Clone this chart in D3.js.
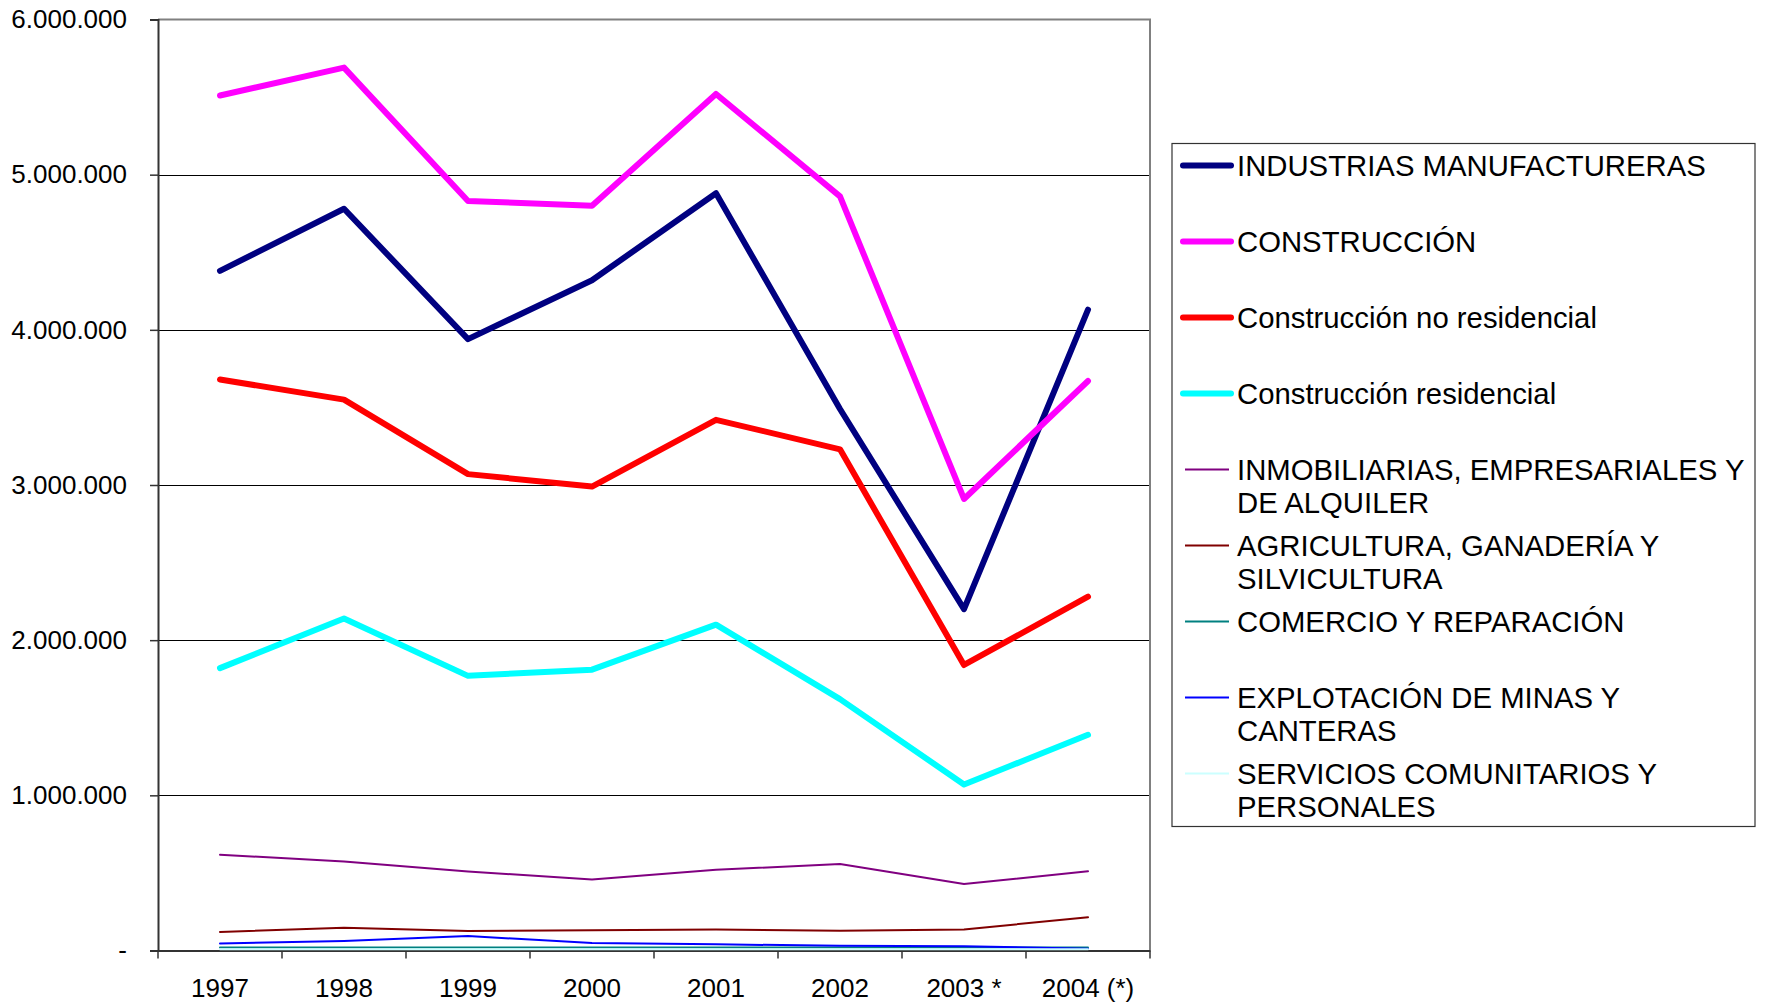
<!DOCTYPE html>
<html>
<head>
<meta charset="utf-8">
<script src="https://cdn.jsdelivr.net/npm/d3@7"></script>
<style>
  body { margin: 0; background: #fff; }
  svg { display: block; font-family: Arial, "Liberation Sans", sans-serif; }
</style>
</head>
<body>
<svg width="1765" height="1005"></svg>
<script>
// years on the x axis
const years = ["1997", "1998", "1999", "2000", "2001", "2002", "2003 *", "2004 (*)"]

const yTicks = [0, 1000000, 2000000, 3000000, 4000000, 5000000, 6000000]

// values
const industrias = [4380000, 4780000, 3940000, 4320000, 4880000, 3490000, 2200000, 4130000]
const construccion = [5510000, 5690000, 4830000, 4800000, 5520000, 4860000, 2910000, 3670000]
const noResidencial = [3680000, 3550000, 3070000, 2990000, 3420000, 3230000, 1840000, 2280000]
const residencial = [1820000, 2140000, 1770000, 1810000, 2100000, 1620000, 1070000, 1390000]
const inmobiliarias = [617000, 574000, 509000, 458000, 520000, 557000, 428000, 511000]
const agricultura = [120000, 146000, 125000, 130000, 135000, 128000, 135000, 215000]
const comercio = [20000, 20000, 20000, 20000, 20000, 20000, 20000, 20000]
const explotacion = [45000, 62000, 93000, 49000, 40000, 30000, 28000, 12000]
const servicios = [8000, 8000, 8000, 8000, 8000, 8000, 8000, 8000]

const series = [
  { name: ["INDUSTRIAS MANUFACTURERAS"], values: industrias, color: "#000080", width: 6 },
  { name: ["CONSTRUCCIÓN"], values: construccion, color: "#FF00FF", width: 6 },
  { name: ["Construcción no residencial"], values: noResidencial, color: "#FF0000", width: 6 },
  { name: ["Construcción residencial"], values: residencial, color: "#00FFFF", width: 6 },
  { name: ["INMOBILIARIAS, EMPRESARIALES Y", "DE ALQUILER"], values: inmobiliarias, color: "#800080", width: 2 },
  { name: ["AGRICULTURA, GANADERÍA Y", "SILVICULTURA"], values: agricultura, color: "#800000", width: 2 },
  { name: ["COMERCIO Y REPARACIÓN"], values: comercio, color: "#008080", width: 2 },
  { name: ["EXPLOTACIÓN DE MINAS Y", "CANTERAS"], values: explotacion, color: "#0000FF", width: 2 },
  { name: ["SERVICIOS COMUNITARIOS Y", "PERSONALES"], values: servicios, color: "#CCFFFF", width: 2 },
]

const svg = d3.select("svg")

const plot = { left: 158, right: 1150, top: 19.5, bottom: 950.5 }

const x = d3.scaleBand()
  .domain(years)
  .range([plot.left, plot.right])

const y = d3.scaleLinear()
  .domain([0, 6000000])
  .range([plot.bottom, plot.top])

const locale = d3.formatLocale({ decimal: ",", thousands: ".", grouping: [3], currency: ["", ""] })
const fmt = locale.format(",")

// gridlines
svg.append("g")
  .selectAll("line")
  .data(yTicks.slice(1, -1))
  .enter()
  .append("line")
    .attr("x1", plot.left)
    .attr("x2", plot.right)
    .attr("y1", d => Math.round(y(d)) + 0.5)
    .attr("y2", d => Math.round(y(d)) + 0.5)
    .attr("stroke", "#000")
    .attr("stroke-width", 1)

// top and right frame
svg.append("path")
  .attr("d", `M${plot.left},${plot.top} H${plot.right} V${plot.bottom}`)
  .attr("fill", "none")
  .attr("stroke", "#808080")
  .attr("stroke-width", 2)

// y axis
const yAxis = svg.append("g")
  .attr("transform", `translate(${plot.left},0)`)
  .call(d3.axisLeft(y)
    .tickValues(yTicks)
    .tickSize(8)
    .tickPadding(23)
    .tickFormat(d => d === 0 ? "-" : fmt(d)))
yAxis.selectAll("text")
  .attr("font-size", 26)
  .attr("fill", "#000")
  .attr("font-family", "Arial, 'Liberation Sans', sans-serif")
yAxis.selectAll("line").attr("stroke", "#333").attr("stroke-width", 1.5)
yAxis.select(".domain").attr("stroke", "#333").attr("stroke-width", 2)

// x axis
const xAxis = svg.append("g")
  .attr("transform", `translate(0,${plot.bottom})`)
  .call(d3.axisBottom(x).tickSize(0).tickPadding(28))
xAxis.selectAll("text")
  .attr("font-size", 26)
  .attr("fill", "#000")
  .attr("font-family", "Arial, 'Liberation Sans', sans-serif")
xAxis.select(".domain").attr("stroke", "#333").attr("stroke-width", 2)

// tick marks between categories
svg.append("g")
  .selectAll("line")
  .data(d3.range(years.length + 1))
  .enter()
  .append("line")
    .attr("x1", i => plot.left + i * x.step())
    .attr("x2", i => plot.left + i * x.step())
    .attr("y1", plot.bottom)
    .attr("y2", plot.bottom + 8)
    .attr("stroke", "#333")
    .attr("stroke-width", 1.5)

const line = d3.line()
  .x((d, i) => x(years[i]) + x.bandwidth() / 2)
  .y(d => y(d))

svg.append("g")
  .selectAll("path")
  .data(series)
  .enter()
  .append("path")
    .attr("d", d => line(d.values))
    .attr("fill", "none")
    .attr("stroke", d => d.color)
    .attr("stroke-width", d => d.width)
    .attr("stroke-linejoin", "round")
    .attr("stroke-linecap", "round")

// legend
svg.append("rect")
  .attr("x", 1172)
  .attr("y", 143.5)
  .attr("width", 583)
  .attr("height", 683)
  .attr("fill", "#fff")
  .attr("stroke", "#333")
  .attr("stroke-width", 1.2)

const items = svg.append("g")
  .selectAll("g")
  .data(series)
  .enter()
  .append("g")
    .attr("transform", (d, i) => `translate(1180,${165.5 + i * 76})`)

items.append("line")
  .attr("x1", d => d.width > 2 ? 3 : 5)
  .attr("x2", d => d.width > 2 ? 51 : 49)
  .attr("stroke", d => d.color)
  .attr("stroke-width", d => d.width)
  .attr("stroke-linecap", d => d.width > 2 ? "round" : "butt")

items.append("text")
  .attr("x", 57)
  .attr("font-size", 29.3)
  .attr("fill", "#000")
  .selectAll("tspan")
  .data(d => d.name)
  .enter()
  .append("tspan")
    .attr("x", 57)
    .attr("y", (d, i) => i * 33)
    .attr("dy", "0.36em")
    .text(d => d)
</script>
</body>
</html>
